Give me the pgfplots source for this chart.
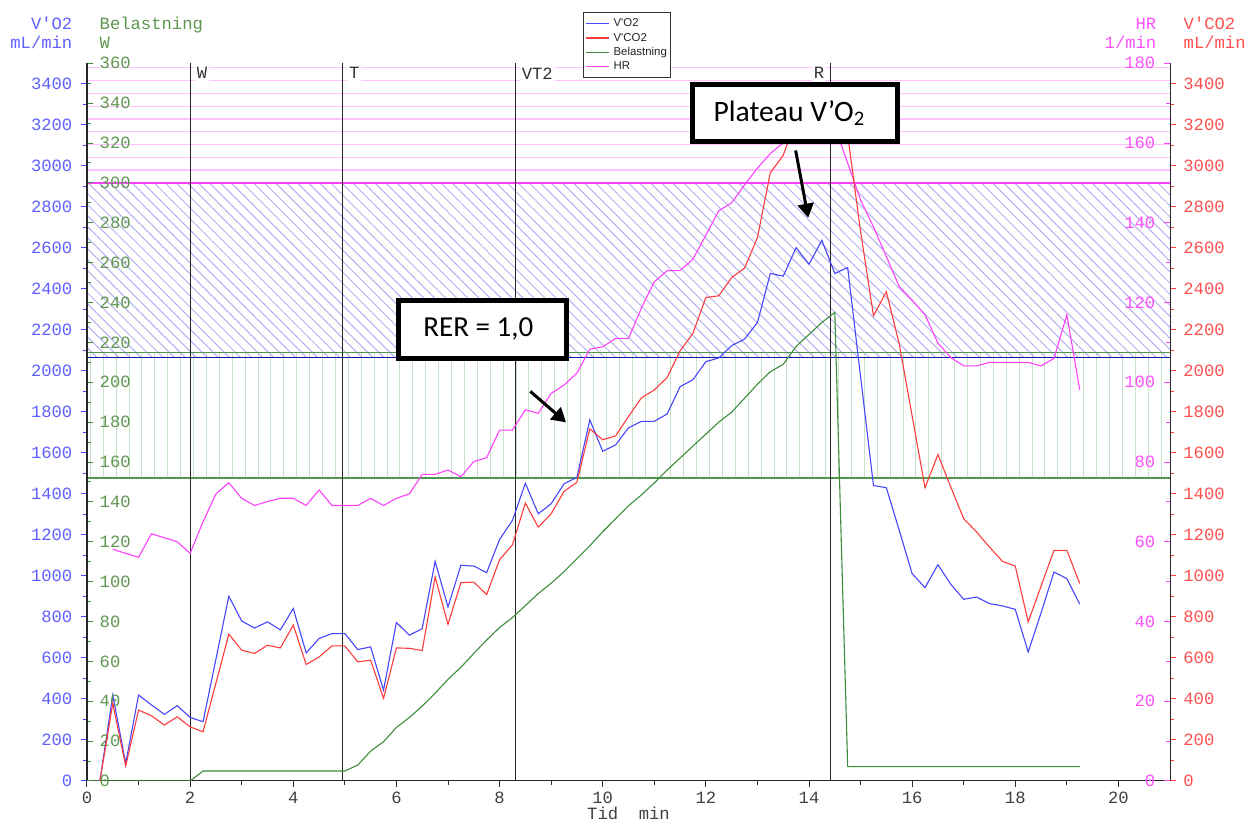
\documentclass[border=0pt]{standalone}
\usepackage{pgfplots}
\pgfplotsset{compat=1.18}
\usepackage{fontspec}
\setmainfont{Liberation Sans}
\newfontfamily\cour{Liberation Mono}
\newfontfamily\arial{Liberation Sans}
\newfontfamily\calib{Carlito}
\usetikzlibrary{patterns.meta,arrows.meta}

\definecolor{vo2}{RGB}{70,70,255}
\definecolor{vco2}{RGB}{255,60,60}
\definecolor{wgreen}{RGB}{60,140,60}
\definecolor{hrmag}{RGB}{255,64,255}
\definecolor{vo2txt}{RGB}{95,95,255}
\definecolor{wtxt}{RGB}{95,150,80}
\definecolor{hrtxt}{RGB}{255,80,255}
\definecolor{vco2txt}{RGB}{255,80,80}
\definecolor{hatchblue}{RGB}{178,178,238}
\definecolor{hatchgreen}{RGB}{200,226,200}
\definecolor{hatchmag}{RGB}{255,192,255}
\definecolor{zonegreen}{RGB}{80,150,80}
\definecolor{zoneblue}{RGB}{20,20,170}

\newcommand{\cf}{\cour\fontsize{8.6}{10}\selectfont}

\pgfplotsset{
  base/.style={at={(0,0)}, anchor=south west, scale only axis,
    width=541.5pt, height=358.85pt, xmin=0, xmax=21,
    /pgf/number format/assume math mode=true,
    /pgf/number format/1000 sep={},
    ticklabel style={font=\cf},
    major tick length=3pt, minor tick length=2pt,
    axis line style={black!85, line width=0.5pt}},
}

\begin{document}
\begin{tikzpicture}
\useasboundingbox (-43.5pt,-21pt) rectangle (580.5pt,390.5pt);

% ---------- A: background zones, events, x axis
\begin{axis}[base, ymin=0, ymax=3500, hide y axis, axis x line*=bottom,
  xtick={0,2,...,20}, minor x tick num=1, tick align=outside,
  tick style={black!80, line width=0.5pt},
  xticklabel style={text=black!75, anchor=base, inner sep=0pt, yshift=-8.15pt},
  xlabel={Tid~~min},
  xlabel style={font=\cf, text=black!75, at={(axis description cs:0.5,0)}, anchor=base, inner sep=0pt, yshift=-19.35pt}]
  \fill[pattern={Lines[angle=90,distance=6.45pt,line width=0.5pt]}, pattern color=hatchgreen] (axis cs:0,1478) rectangle (axis cs:21,2090);
  \fill[pattern={Lines[angle=-45,distance=3.9pt,line width=0.5pt]}, pattern color=hatchblue] (axis cs:0,2063) rectangle (axis cs:21,2917);
  \pgfplotsinvokeforeach{1,...,9}{
    \draw[hatchmag, line width=0.6pt] (axis cs:0,{2917+62.3*#1}) -- (axis cs:21,{2917+62.3*#1});
  }
  \draw[zonegreen, line width=0.6pt] (axis cs:0,1478) -- (axis cs:21,1478);
  \draw[zonegreen, line width=0.6pt] (axis cs:0,2090) -- (axis cs:21,2090);
  \draw[zoneblue, line width=0.5pt] (axis cs:0,2063) -- (axis cs:21,2063);
  \draw[hrmag, line width=0.75pt] (axis cs:0,2917) -- (axis cs:21,2917);
  \draw[black!85, line width=0.5pt] (axis cs:2,0) -- (axis cs:2,3500);
  \draw[black!85, line width=0.5pt] (axis cs:4.95,0) -- (axis cs:4.95,3500);
  \draw[black!85, line width=0.5pt] (axis cs:8.3,0) -- (axis cs:8.3,3500);
  \draw[black!85, line width=0.5pt] (axis cs:14.42,0) -- (axis cs:14.42,3500);
  \node[font=\cf, text=black!80, fill=white, inner sep=1pt, anchor=west, xshift=2.2pt, yshift=-5pt] at (axis cs:2,3500) {W};
  \node[font=\cf, text=black!80, fill=white, inner sep=1pt, anchor=west, xshift=2.2pt, yshift=-5pt] at (axis cs:4.95,3500) {T};
  \node[font=\cf, text=black!80, fill=white, inner sep=1pt, anchor=west, xshift=2.2pt, yshift=-5pt] at (axis cs:8.3,3500) {VT2};
  \node[font=\cf, text=black!80, fill=white, inner sep=1pt, anchor=east, xshift=-2pt, yshift=-5pt] at (axis cs:14.42,3500) {R};
\end{axis}

% ---------- B: V'O2 (left, outside labels)
\begin{axis}[base, ymin=0, ymax=3500, hide x axis, axis y line*=left,
  ytick={0,200,...,3400}, minor y tick num=1, tick align=outside,
  tick style={vo2, line width=0.5pt},
  yticklabel style={text=vo2txt, anchor=east, inner sep=0pt, xshift=-4.15pt}]
  \addplot[vo2, line width=0.55pt] coordinates {
    (0.25,0) (0.5,419) (0.75,86) (1.0,419) (1.25,371) (1.5,325) (1.75,367) (2.0,310)
    (2.25,289) (2.5,594) (2.75,901) (3.0,780) (3.25,746) (3.5,776) (3.75,737) (4.0,841)
    (4.25,625) (4.5,695) (4.75,719) (5.0,719) (5.25,641) (5.5,654) (5.75,443) (6.0,773)
    (6.25,711) (6.5,743) (6.75,1071) (7.0,849) (7.25,1052) (7.5,1048) (7.75,1016) (8.0,1178)
    (8.25,1271) (8.5,1452) (8.75,1303) (9.0,1352) (9.25,1449) (9.5,1481) (9.75,1761) (10.0,1608)
    (10.25,1639) (10.5,1722) (10.75,1754) (11.0,1754) (11.25,1790) (11.5,1923) (11.75,1957) (12.0,2045)
    (12.25,2063) (12.5,2123) (12.75,2155) (13.0,2236) (13.25,2475) (13.5,2462) (13.75,2601) (14.0,2520)
    (14.25,2637) (14.5,2475) (14.75,2504) (15.0,1972) (15.25,1441) (15.5,1430) (15.75,1222) (16.0,1011)
    (16.25,943) (16.5,1055) (16.75,959) (17.0,886) (17.25,897) (17.5,865) (17.75,854) (18.0,837)
    (18.25,629) (18.5,820) (18.75,1019) (19.0,987) (19.25,862)};
\end{axis}

% ---------- C: Belastning (left, inside labels)
\begin{axis}[base, ymin=0, ymax=360, hide x axis, axis y line*=left,
  ytick={0,20,...,360}, minor y tick num=1, tick align=inside,
  tick style={wgreen, line width=0.5pt},
  yticklabel style={text=wtxt, anchor=west, inner sep=0pt, xshift=6.15pt}]
  \addplot[wgreen, line width=0.55pt] coordinates {
    (0,0) (2.0,0) (2.25,5) (5.0,5) (5.25,8) (5.5,15) (5.75,19.7) (6.0,26.9) (6.25,31.8)
    (6.5,37.6) (6.75,44) (7.0,51) (7.25,57) (7.5,64) (7.75,70.7) (8.0,77) (8.25,82) (8.5,88)
    (8.75,94) (9.0,99.2) (9.25,105) (9.5,111.5) (9.75,118) (10.0,125) (10.25,131.5) (10.5,138)
    (10.75,143.5) (11.0,149.5) (11.25,156) (11.5,162) (11.75,168) (12.0,174) (12.25,180)
    (12.5,185) (12.75,192) (13.0,199) (13.25,205.3) (13.5,209) (13.75,218) (14.0,224)
    (14.25,230) (14.5,235) (14.75,7.2) (19.25,7.2)};
\end{axis}

% ---------- D: HR (right, inside labels)
\begin{axis}[base, ymin=0, ymax=180, hide x axis, axis y line*=right,
  ytick={0,20,...,180}, minor y tick num=1, tick align=inside,
  tick style={hrmag, line width=0.5pt},
  yticklabel style={text=hrtxt, anchor=east, inner sep=0pt, xshift=-7.15pt}]
  \addplot[hrmag, line width=0.55pt] coordinates {
    (0.5,58.1) (0.75,57.1) (1.0,56.1) (1.25,62.0) (1.5,61.0) (1.75,60.0) (2.0,57.1) (2.25,65.0)
    (2.5,72.0) (2.75,74.8) (3.0,70.9) (3.25,69.1) (3.5,70.1) (3.75,70.9) (4.0,70.9) (4.25,69.1)
    (4.5,73.0) (4.75,69.1) (5.0,69.1) (5.25,69.1) (5.5,70.9) (5.75,69.1) (6.0,70.9) (6.25,72.0)
    (6.5,76.9) (6.75,76.9) (7.0,78.0) (7.25,76.3) (7.5,80.1) (7.75,81.1) (8.0,88.0) (8.25,88.0)
    (8.5,93.1) (8.75,92.2) (9.0,97.2) (9.25,99.3) (9.5,102.3) (9.75,108.3) (10.0,108.9) (10.25,111.0)
    (10.5,111.0) (10.75,118.6) (11.0,125.2) (11.25,128.0) (11.5,128.0) (11.75,130.9) (12.0,136.9)
    (12.25,143.0) (12.5,145.0) (12.75,149.5) (13.0,153.7) (13.25,157.4) (13.5,160.0) (13.75,164)
    (14.0,167) (14.25,167) (14.5,164) (14.75,155) (15.0,145.7) (15.25,139.0) (15.5,131.5)
    (15.75,124.0) (16.0,120.6) (16.25,116.9) (16.5,109.8) (16.75,106.2) (17.0,104.1) (17.25,104.1)
    (17.5,105.0) (17.75,105.0) (18.0,105.0) (18.25,105.0) (18.5,104.1) (18.75,106.0) (19.0,116.9)
    (19.25,98.1)};
\end{axis}

% ---------- E: V'CO2 (right, outside labels), legend, annotations
\begin{axis}[base, ymin=0, ymax=3500, hide x axis, axis y line*=right,
  ytick={0,200,...,3400}, minor y tick num=1, tick align=outside,
  tick style={vco2, line width=0.5pt},
  yticklabel style={text=vco2txt, anchor=west, inner sep=0pt, xshift=3.5pt},
  legend cell align=left,
  legend image code/.code={\draw[#1] (0pt,0pt) -- (11.5pt,0pt);},
  legend style={at={(0.4583,1.0711)}, anchor=north west, draw=black!80, line width=0.5pt,
    fill=white, font=\arial\fontsize{5.7}{6}\selectfont, text=black!85,
    inner xsep=1pt, inner ysep=2pt, column sep=1pt,
    nodes={inner sep=0.8pt, text height=4.3pt, text depth=1.2pt}}]
  \addplot[vco2, line width=0.55pt, forget plot] coordinates {
    (0.25,0) (0.5,378) (0.75,73) (1.0,346) (1.25,318) (1.5,273) (1.75,313) (2.0,264)
    (2.25,240) (2.5,477) (2.75,716) (3.0,638) (3.25,622) (3.5,662) (3.75,649) (4.0,760)
    (4.25,568) (4.5,605) (4.75,659) (5.0,659) (5.25,581) (5.5,589) (5.75,403) (6.0,649)
    (6.25,647) (6.5,636) (6.75,995) (7.0,764) (7.25,967) (7.5,970) (7.75,909) (8.0,1079)
    (8.25,1152) (8.5,1355) (8.75,1238) (9.0,1303) (9.25,1412) (9.5,1457) (9.75,1717) (10.0,1664)
    (10.25,1683) (10.5,1778) (10.75,1868) (11.0,1907) (11.25,1968) (11.5,2098) (11.75,2183) (12.0,2358)
    (12.25,2366) (12.5,2455) (12.75,2501) (13.0,2650) (13.25,2966) (13.5,3051) (13.75,3230) (14.0,3330)
    (14.25,3370) (14.5,3330) (14.75,3150) (15.0,2680) (15.25,2269) (15.5,2386) (15.75,2131) (16.0,1780)
    (16.25,1430) (16.5,1592) (16.75,1433) (17.0,1279) (17.25,1214) (17.5,1141) (17.75,1071) (18.0,1048)
    (18.25,776) (18.5,950) (18.75,1125) (19.0,1125) (19.25,963)};
  \addlegendimage{vo2, line width=0.6pt}\addlegendentry{V\textquotesingle O2}
  \addlegendimage{vco2, line width=0.6pt}\addlegendentry{V\textquotesingle CO2}
  \addlegendimage{wgreen, line width=0.6pt}\addlegendentry{Belastning}
  \addlegendimage{hrmag, line width=0.6pt}\addlegendentry{HR}
  \node[draw=black, line width=2.5pt, fill=white, minimum width=102.5pt, minimum height=28.5pt,
        inner sep=0pt, font=\calib\fontsize{14.8}{16}\selectfont] at (axis cs:13.727,3258)
        {\hspace*{-5.5pt}Plateau V’O\textsubscript{2}};
  \node[draw=black, line width=2.5pt, fill=white, minimum width=84pt, minimum height=29pt,
        inner sep=0pt, font=\calib\fontsize{14.5}{16}\selectfont] at (axis cs:7.677,2203)
        {\hspace*{-4.5pt}RER = 1,0};
  \draw[line width=1.5pt, -{Triangle[length=7pt,width=8pt]}] (axis cs:13.741,3075) -- (axis cs:13.985,2747);
  \draw[line width=1.5pt, -{Triangle[length=7pt,width=8pt]}] (axis cs:8.596,1900) -- (axis cs:9.288,1749);
\end{axis}

% ---------- axis titles
\node[anchor=base east, inner sep=0pt, font=\cf, text=vo2txt] at (-7.15pt,375.5pt) {V\textquotesingle O2};
\node[anchor=base east, inner sep=0pt, font=\cf, text=vo2txt] at (-7.15pt,366pt) {mL/min};
\node[anchor=base west, inner sep=0pt, font=\cf, text=wtxt] at (6.15pt,375.5pt) {Belastning};
\node[anchor=base west, inner sep=0pt, font=\cf, text=wtxt] at (6.15pt,366pt) {W};
\node[anchor=base east, inner sep=0pt, font=\cf, text=hrtxt] at (534.85pt,375.5pt) {HR};
\node[anchor=base east, inner sep=0pt, font=\cf, text=hrtxt] at (534.85pt,366pt) {1/min};
\node[anchor=base west, inner sep=0pt, font=\cf, text=vco2txt] at (548.15pt,375.5pt) {V\textquotesingle CO2};
\node[anchor=base west, inner sep=0pt, font=\cf, text=vco2txt] at (548.15pt,366pt) {mL/min};
\end{tikzpicture}
\end{document}
